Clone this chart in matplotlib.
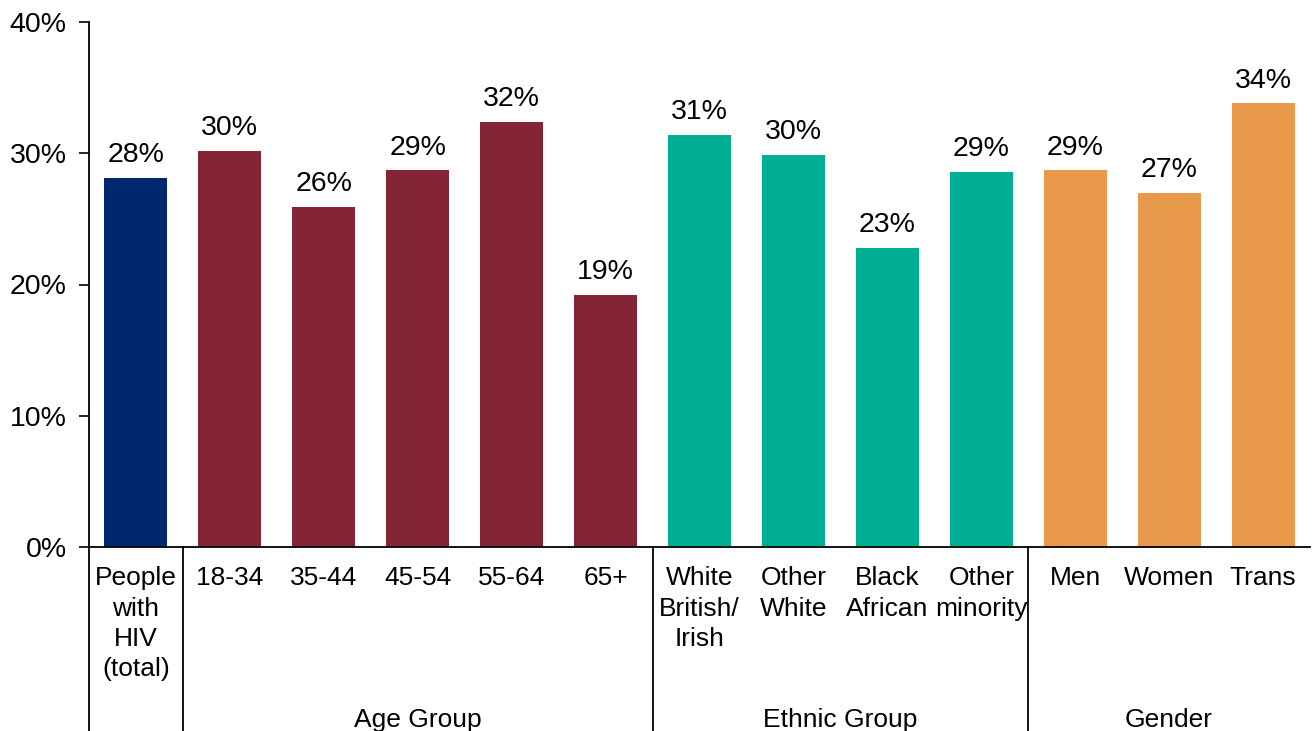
import matplotlib.pyplot as plt
import matplotlib.transforms as mtransforms
from matplotlib.ticker import PercentFormatter

plt.rcParams['font.family'] = ['Liberation Sans', 'DejaVu Sans']

# Share of people with HIV, overall and by subgroup (%)
categories = ['People\nwith\nHIV\n(total)',
              '18-34', '35-44', '45-54', '55-64', '65+',
              'White\nBritish/\nIrish', 'Other\nWhite', 'Black\nAfrican', 'Other\nminority',
              'Men', 'Women', 'Trans']
values = [28.1, 30.2, 25.9, 28.7, 32.4, 19.2,
          31.4, 29.9, 22.8, 28.6,
          28.7, 27.0, 33.8]
groups = ['', 'Age Group', 'Age Group', 'Age Group', 'Age Group', 'Age Group',
          'Ethnic Group', 'Ethnic Group', 'Ethnic Group', 'Ethnic Group',
          'Gender', 'Gender', 'Gender']

group_colors = {'': '#00286F', 'Age Group': '#832535',
                'Ethnic Group': '#00AF93', 'Gender': '#E8994A'}
colors = [group_colors[g] for g in groups]

fig = plt.figure(figsize=(13.16, 7.31), dpi=100)
ax = fig.add_axes([89 / 1316, 184 / 731, 1221 / 1316, 525 / 731])

x = list(range(len(categories)))
bars = ax.bar(x, values, width=0.67, color=colors)

for bar, v in zip(bars, values):
    ax.annotate(f'{v:.0f}%', (bar.get_x() + bar.get_width() / 2, v),
                xytext=(0, 7), textcoords='offset points',
                ha='center', va='bottom', fontsize=20.5)

ax.set_xlim(-0.5, len(categories) - 0.5)
ax.set_ylim(0, 40)
ax.set_yticks([0, 10, 20, 30, 40])
ax.yaxis.set_major_formatter(PercentFormatter(decimals=0))
ax.tick_params(axis='y', labelsize=20.5, length=7, width=1.2, pad=9)
ax.set_xticks([])

for side in ['top', 'right']:
    ax.spines[side].set_visible(False)
for side in ['left', 'bottom']:
    ax.spines[side].set_linewidth(1.3)

# category labels under each bar
trans = mtransforms.blended_transform_factory(ax.transData, ax.transAxes)
for xi, lab in zip(x, categories):
    ax.text(xi, -0.037, lab, transform=trans, ha='center', va='top',
            fontsize=19, linespacing=1.33)

# group separators running down from the axis
bounds = [-0.5]
for i in range(1, len(groups)):
    if groups[i] != groups[i - 1]:
        bounds.append(i - 0.5)
for b in bounds:
    ax.plot([b, b], [0, -0.36], transform=trans, color='black',
            lw=1.3, clip_on=False)

# group titles centred under each block
names = []
for g in groups:
    if g and g not in names:
        names.append(g)
for g in names:
    idx = [i for i, gg in enumerate(groups) if gg == g]
    ax.text((idx[0] + idx[-1]) / 2, -0.33, g, transform=trans,
            ha='center', va='center', fontsize=19)

fig.savefig('out.png', dpi=100)
